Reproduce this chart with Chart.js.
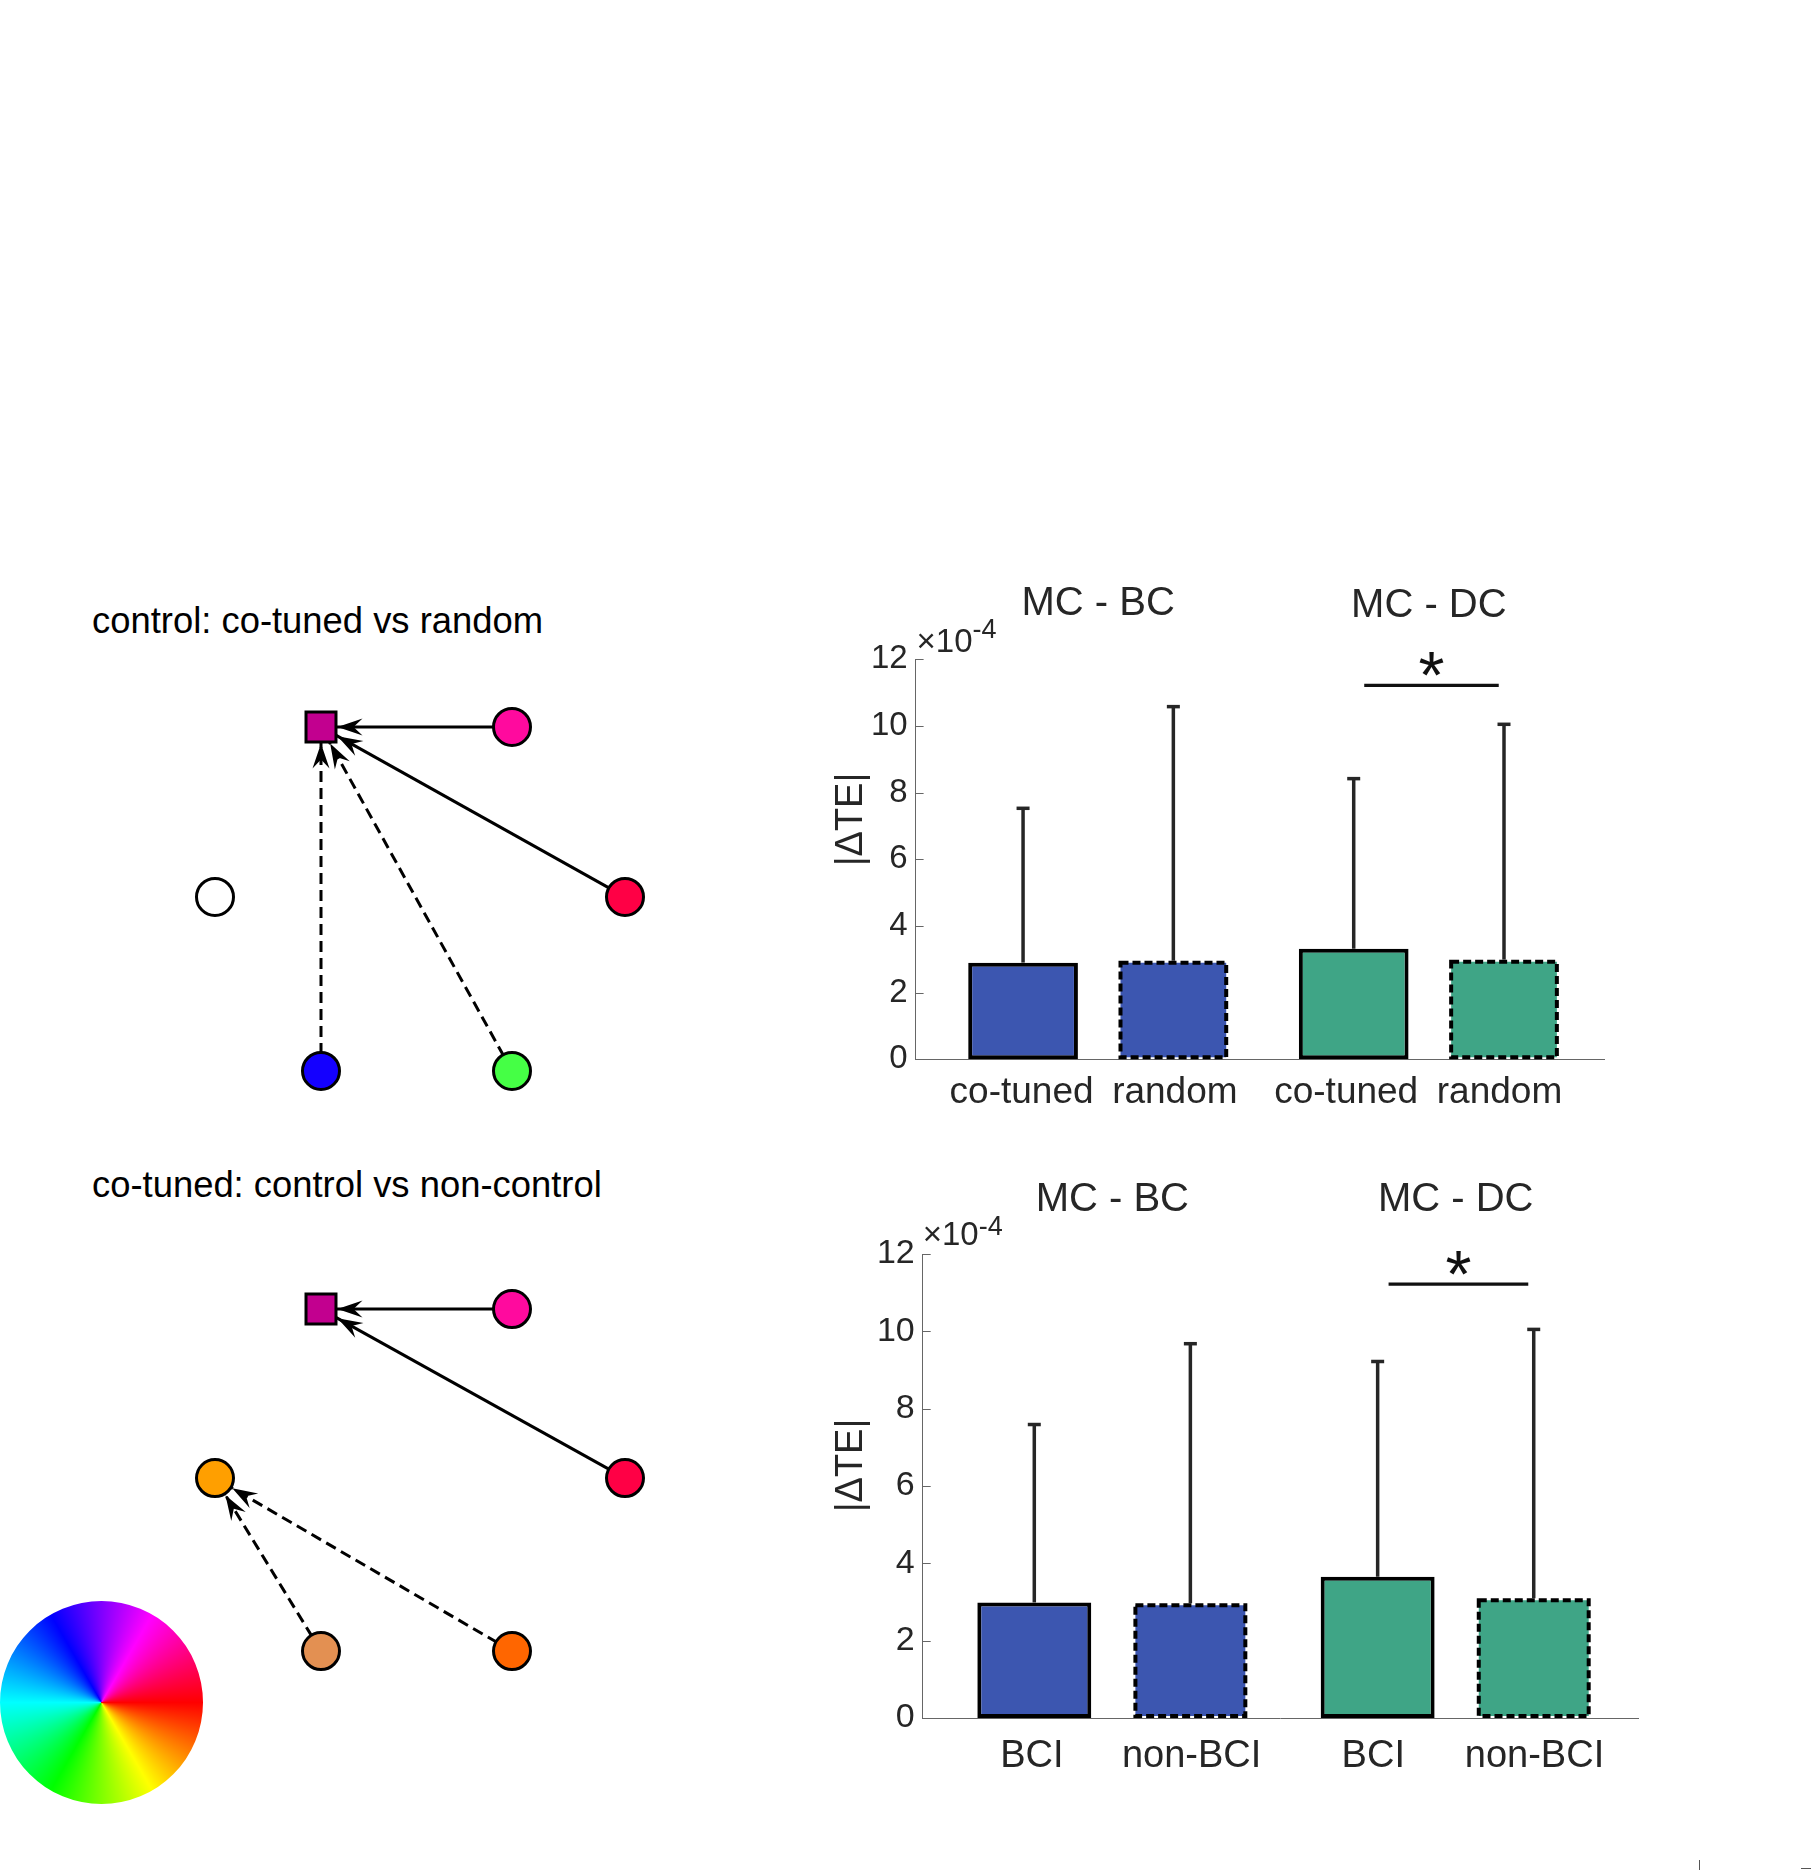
<!DOCTYPE html>
<html>
<head>
<meta charset="utf-8">
<script src="https://cdn.jsdelivr.net/npm/chart.js@4.4.1/dist/chart.umd.min.js"></script>
<style>
html,body{margin:0;padding:0;background:#fff;}
body{width:1811px;height:1870px;position:relative;overflow:hidden;}
canvas{position:absolute;}
.ttl{position:absolute;font-family:'Liberation Sans',Arial,sans-serif;font-size:36.4px;line-height:36px;color:#000;white-space:nowrap;}
.frag{position:absolute;background:#555;}
</style>
</head>
<body>
<div class="ttl" style="left:92px;top:603px">control: co-tuned vs random</div>
<div class="ttl" style="left:92px;top:1167px">co-tuned: control vs non-control</div>
<div class="frag" style="left:1699px;top:1860px;width:1px;height:10px"></div>
<div class="frag" style="left:1801px;top:1868px;width:10px;height:1px"></div>
<canvas id="netTop" width="740" height="580" style="left:0;top:560px"></canvas>
<canvas id="netBottom" width="740" height="560" style="left:0;top:1140px"></canvas>
<canvas id="wheel" width="203" height="203" style="left:0;top:1601px"></canvas>
<canvas id="barTop" width="900" height="600" style="left:760px;top:540px"></canvas>
<canvas id="barBottom" width="940" height="700" style="left:760px;top:1140px"></canvas>
<script>
// ---------------- DATA ----------------
// bar panels
const topCategories = ['co-tuned', 'random', 'co-tuned', 'random'];
const bottomCategories = ['BCI', 'non-BCI', 'BCI', 'non-BCI'];
const groupTitles = ['MC - BC', 'MC - DC'];
const groupCenters = [1.5, 3.7];
const barPositions = [1, 2, 3.2, 4.2];
const topLabelPositions = [0.99, 2.01, 3.15, 4.17];
const bottomLabelPositions = [0.985, 2.008, 3.172, 4.205];
const topMeans = [2.90, 2.96, 3.32, 2.99];        // x 1e-4
const topUpper = [7.53, 10.58, 8.42, 10.05];      // upper end of error bar, x 1e-4
const bottomMeans = [2.99, 2.97, 3.65, 3.10];
const bottomUpper = [7.59, 9.68, 9.22, 10.05];
const yTickValues = [0, 2, 4, 6, 8, 10, 12];
const sigSpan = [3.27, 4.165];
const sigLevel = 11.22;
const sigMark = '*';
const yAxisLabel = '|\u0394TE|';

// network diagrams (node coordinates in diagram units)
const topNodeNames = ['target', 'co-tuned 1', 'unconnected', 'co-tuned 2', 'random 1', 'random 2'];
const topNodeX = [-0.97, 0.94, -2.03, 2.07, -0.97, 0.94];
const topNodeY = [1.72, 1.72, 0.02, 0.02, -1.72, -1.72];
const topEdgeFrom = [1, 3, 4, 5];
const topEdgeTo = [0, 0, 0, 0];
const topEdgeDashed = [false, false, true, true];

const botNodeNames = ['control target', 'control 1', 'non-control target', 'control 2', 'non-control 1', 'non-control 2'];
const botNodeX = [-0.97, 0.94, -2.03, 2.07, -0.97, 0.94];
const botNodeY = [1.71, 1.71, 0.02, 0.02, -1.71, -1.71];
const botEdgeFrom = [1, 3, 4, 5];
const botEdgeTo = [0, 0, 2, 2];
const botEdgeDashed = [false, false, true, true];

const wheelSlices = [1];

// ---------------- STYLE ----------------
const FONT = "'Liberation Sans', Arial, sans-serif";
const INK = '#262626';
const AXIS = '#666666';
const barColors = ['#3c56b0', '#3c56b0', '#3fa586', '#3fa586'];
const barIsDashed = [false, true, false, true];
const nodeShape = ['square', 'circle', 'circle', 'circle', 'circle', 'circle'];
const topNodeColor = ['#c2008f', '#ff0a9e', '#ffffff', '#ff0045', '#1400ff', '#45ff45'];
const botNodeColor = ['#c2008f', '#ff0a9e', '#ff9f00', '#ff0045', '#e39052', '#ff6600'];
const hueStops = ['#ff0000', '#ffff00', '#00ff00', '#00ffff', '#0000ff', '#ff00ff', '#ff0000'];

Chart.defaults.font.family = FONT;

// ---------------- PLUGINS ----------------
const barExtras = {
  id: 'barExtras',
  afterDatasetsDraw(chart, args, o) {
    const ctx = chart.ctx, xs = chart.scales.x, ys = chart.scales.y, ca = chart.chartArea;
    const meta = chart.getDatasetMeta(0);
    ctx.save();
    // dashed bar outlines
    ctx.strokeStyle = '#000'; ctx.lineWidth = 4; ctx.setLineDash([8, 4]);
    meta.data.forEach((el, i) => {
      if (!barIsDashed[i]) return;
      const p = el.getProps(['x', 'y', 'base', 'width'], true);
      const l = p.x - p.width / 2, t = Math.min(p.y, p.base), h = Math.abs(p.base - p.y);
      ctx.strokeRect(l + 2, t + 2, p.width - 4, h - 4);
    });
    ctx.setLineDash([]);
    // inward y ticks
    ctx.strokeStyle = AXIS; ctx.lineWidth = 1;
    yTickValues.forEach(v => {
      const y = Math.round(ys.getPixelForValue(v)) + 0.5;
      ctx.beginPath(); ctx.moveTo(ca.left, y); ctx.lineTo(ca.left + 8, y); ctx.stroke();
    });
    // upper error bars
    ctx.strokeStyle = INK; ctx.lineWidth = 3.5; ctx.lineCap = 'butt';
    o.upper.forEach((u, i) => {
      const x = xs.getPixelForValue(barPositions[i]);
      const y0 = ys.getPixelForValue(o.means[i]), y1 = ys.getPixelForValue(u);
      ctx.beginPath(); ctx.moveTo(x, y0); ctx.lineTo(x, y1); ctx.stroke();
      ctx.beginPath(); ctx.moveTo(x - 6.5, y1); ctx.lineTo(x + 6.5, y1); ctx.stroke();
    });
    // significance bracket
    const sy = ys.getPixelForValue(sigLevel);
    const sx0 = xs.getPixelForValue(sigSpan[0]), sx1 = xs.getPixelForValue(sigSpan[1]);
    ctx.strokeStyle = '#111'; ctx.lineWidth = 3.2;
    ctx.beginPath(); ctx.moveTo(sx0, sy); ctx.lineTo(sx1, sy); ctx.stroke();
    ctx.fillStyle = '#111';
    ctx.font = "100px " + FONT;
    let m = ctx.measureText(sigMark);
    const hh = m.actualBoundingBoxAscent + m.actualBoundingBoxDescent;
    const fs = 100 * 24 / hh;
    ctx.font = fs + "px " + FONT;
    m = ctx.measureText(sigMark);
    ctx.textAlign = 'center'; ctx.textBaseline = 'alphabetic';
    const cy = sy - 21;
    ctx.fillText(sigMark, (sx0 + sx1) / 2, cy + (m.actualBoundingBoxAscent - m.actualBoundingBoxDescent) / 2);
    // group titles
    ctx.fillStyle = INK;
    ctx.font = o.titleSize + 'px ' + FONT;
    groupTitles.forEach((t, k) => {
      ctx.fillText(t, xs.getPixelForValue(groupCenters[k]), ca.top + o.titleDY[k]);
    });
    // exponent label
    ctx.textAlign = 'left';
    ctx.font = '33px ' + FONT;
    const base = '\u00d710';
    ctx.fillText(base, ca.left + o.expDX, ca.top + o.expDY);
    const w = ctx.measureText(base).width;
    ctx.font = '27px ' + FONT;
    ctx.fillText('-4', ca.left + o.expDX + w, ca.top + o.expSupDY);
    // y label
    ctx.translate(ca.left + o.yLabelDX, ca.top + o.yLabelDY);
    ctx.rotate(-Math.PI / 2);
    ctx.textAlign = 'center';
    ctx.font = '38px ' + FONT;
    ctx.fillText(yAxisLabel, 0, 0);
    ctx.restore();
  }
};

const arrowPlugin = {
  id: 'arrows',
  afterDatasetsDraw(chart, args, o) {
    const ctx = chart.ctx, xs = chart.scales.x, ys = chart.scales.y;
    ctx.save();
    ctx.fillStyle = '#000';
    o.from.forEach((f, k) => {
      const t = o.to[k];
      const sx = xs.getPixelForValue(o.nx[f]), sy = ys.getPixelForValue(o.ny[f]);
      const tx = xs.getPixelForValue(o.nx[t]), ty = ys.getPixelForValue(o.ny[t]);
      const dx = sx - tx, dy = sy - ty, len = Math.hypot(dx, dy);
      const ux = dx / len, uy = dy / len;
      const r = nodeShape[t] === 'square' ? 16.5 / Math.max(Math.abs(ux), Math.abs(uy)) : 20;
      const px = tx + ux * r, py = ty + uy * r;
      const L = 25, W = 8.5, N = 16, nx = -uy, ny = ux;
      const bx = px + ux * L, by = py + uy * L;
      ctx.beginPath();
      ctx.moveTo(px, py);
      ctx.lineTo(bx + nx * W, by + ny * W);
      ctx.lineTo(px + ux * N, py + uy * N);
      ctx.lineTo(bx - nx * W, by - ny * W);
      ctx.closePath();
      ctx.fill();
    });
    ctx.restore();
  }
};

// ---------------- BUILDERS ----------------
function buildBars(id, cfg) {
  new Chart(document.getElementById(id), {
    type: 'bar',
    data: {
      datasets: [{
        data: barPositions.map((x, i) => ({ x: x, y: cfg.means[i] })),
        backgroundColor: barColors,
        borderColor: barIsDashed.map(d => d ? '#ffffff' : '#000000'),
        borderWidth: barIsDashed.map(d => d ? 2 : 4),
        borderSkipped: false,
        barPercentage: 0.73,
        categoryPercentage: 1
      }]
    },
    options: {
      responsive: false, animation: false, devicePixelRatio: 1, events: [],
      layout: { padding: cfg.padding, autoPadding: false },
      plugins: {
        legend: { display: false }, tooltip: { enabled: false },
        barExtras: cfg.extras
      },
      scales: {
        x: {
          type: 'linear', min: 0.285, max: 4.87, offset: false,
          grid: { display: false, drawTicks: false },
          border: { display: true, color: AXIS, width: 1 },
          afterBuildTicks: s => { s.ticks = cfg.labelPositions.map(v => ({ value: v })); },
          afterFit: s => { s.height = cfg.xAxisHeight; },
          ticks: {
            autoSkip: false, maxRotation: 0, minRotation: 0, padding: cfg.xPad, color: INK,
            font: { family: FONT, size: cfg.xFont },
            callback: (v, i) => cfg.categories[i]
          }
        },
        y: {
          type: 'linear', min: 0, max: 12,
          grid: { display: false, drawTicks: false },
          border: { display: true, color: AXIS, width: 1 },
          afterBuildTicks: s => { s.ticks = yTickValues.map(v => ({ value: v })); },
          afterFit: s => { s.width = cfg.yAxisWidth; },
          ticks: {
            padding: 8, color: INK, font: { family: FONT, size: cfg.yFont },
            callback: v => String(v)
          }
        }
      }
    },
    plugins: [barExtras]
  });
}

function buildNetwork(id, nx, ny, colors, eFrom, eTo, eDashed, lim) {
  const edgeSets = eFrom.map((f, k) => ({
    data: [{ x: nx[f], y: ny[f] }, { x: nx[eTo[k]], y: ny[eTo[k]] }],
    showLine: true, borderColor: '#000', borderWidth: 3,
    borderDash: eDashed[k] ? [11, 6] : [], borderCapStyle: 'butt',
    pointRadius: 0, order: 2, clip: false
  }));
  const nodeSet = {
    data: nx.map((x, i) => ({ x: x, y: ny[i] })),
    showLine: false,
    pointStyle: nodeShape.map(s => s === 'square' ? 'rect' : 'circle'),
    pointRadius: nodeShape.map(s => s === 'square' ? 21.2 : 18.5),
    pointBackgroundColor: colors, pointBorderColor: '#000', pointBorderWidth: 3,
    order: 0, clip: false
  };
  new Chart(document.getElementById(id), {
    type: 'scatter',
    data: { datasets: edgeSets.concat([nodeSet]) },
    options: {
      responsive: false, animation: false, devicePixelRatio: 1, events: [],
      layout: { padding: 0, autoPadding: false },
      plugins: {
        legend: { display: false }, tooltip: { enabled: false },
        arrows: { from: eFrom, to: eTo, nx: nx, ny: ny }
      },
      scales: {
        x: { type: 'linear', display: false, min: lim[0], max: lim[1] },
        y: { type: 'linear', display: false, min: lim[2], max: lim[3] }
      }
    },
    plugins: [arrowPlugin]
  });
}

// ---------------- CHARTS ----------------
buildNetwork('netTop', topNodeX, topNodeY, topNodeColor, topEdgeFrom, topEdgeTo, topEdgeDashed,
  [-4.18, 3.22, -2.411, 3.389]);
buildNetwork('netBottom', botNodeX, botNodeY, botNodeColor, botEdgeFrom, botEdgeTo, botEdgeDashed,
  [-4.18, 3.22, -2.199, 3.401]);

new Chart(document.getElementById('wheel'), {
  type: 'pie',
  data: {
    datasets: [{
      data: wheelSlices, borderWidth: 0,
      backgroundColor: c => {
        const ch = c.chart, a = ch.chartArea;
        if (!a) return '#ff0000';
        const g = ch.ctx.createConicGradient(0, (a.left + a.right) / 2, (a.top + a.bottom) / 2);
        hueStops.forEach((col, i) => g.addColorStop(i / (hueStops.length - 1), col));
        return g;
      }
    }]
  },
  options: {
    responsive: false, animation: false, devicePixelRatio: 1, events: [],
    layout: { padding: 0 },
    plugins: { legend: { display: false }, tooltip: { enabled: false } }
  }
});

buildBars('barTop', {
  categories: topCategories, means: topMeans, labelPositions: topLabelPositions,
  padding: { left: 0, top: 119.3, right: 55.3, bottom: 0 },
  yAxisWidth: 155.6, xAxisHeight: 80.7, xPad: 11.5, xFont: 37, yFont: 33,
  extras: {
    means: topMeans, upper: topUpper, titleSize: 40, titleDY: [-44.3, -42.1],
    expDX: 1, expDY: -7.6, expSupDY: -21.3, yLabelDX: -53.6, yLabelDY: 160.2
  }
});

buildBars('barBottom', {
  categories: bottomCategories, means: bottomMeans, labelPositions: bottomLabelPositions,
  padding: { left: 0, top: 114, right: 61.7, bottom: 0 },
  yAxisWidth: 162.7, xAxisHeight: 122, xPad: 15.6, xFont: 38, yFont: 34,
  extras: {
    means: bottomMeans, upper: bottomUpper, titleSize: 40, titleDY: [-42.6, -42.6],
    expDX: 0, expDY: -9, expSupDY: -19, yLabelDX: -60.7, yLabelDY: 211.5
  }
});
</script>
</body>
</html>
